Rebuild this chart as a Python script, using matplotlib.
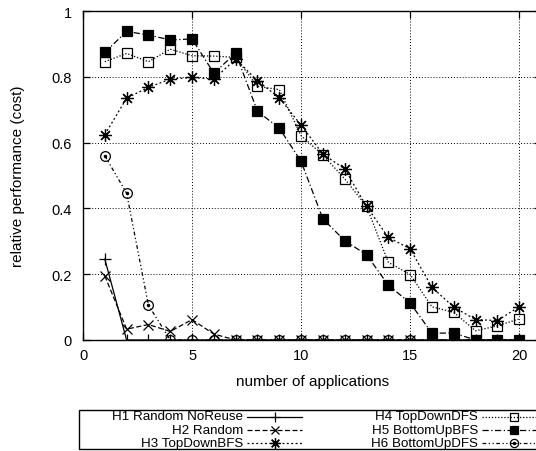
import numpy as np
import matplotlib.pyplot as plt
from matplotlib.lines import Line2D
from matplotlib.patches import Rectangle

plt.rcParams["font.family"] = ["Liberation Sans", "DejaVu Sans"]

apps = list(range(1, 21))

h1_noreuse = [0.246] + [0.0] * 19
h2_random = [0.195, 0.033, 0.047, 0.026, 0.062, 0.018] + [0.0] * 14
h3_topdown_bfs = [0.624, 0.735, 0.768, 0.793, 0.798, 0.793, 0.854, 0.788, 0.736, 0.653,
                  0.565, 0.52, 0.406, 0.312, 0.277, 0.16, 0.1, 0.062, 0.059, 0.101]
h4_topdown_dfs = [0.846, 0.871, 0.846, 0.884, 0.864, 0.863, 0.859, 0.771, 0.761, 0.621,
                  0.562, 0.49, 0.406, 0.236, 0.199, 0.101, 0.084, 0.028, 0.043, 0.064]
h5_bottomup_bfs = [0.874, 0.938, 0.927, 0.912, 0.915, 0.811, 0.872, 0.695, 0.644, 0.543,
                   0.368, 0.302, 0.259, 0.167, 0.112, 0.021, 0.021, 0.0, 0.0, 0.0]
h6_bottomup_dfs = [0.56, 0.446, 0.106] + [0.0] * 17

labels = ["H1 Random NoReuse", "H2 Random", "H3 TopDownBFS",
          "H4 TopDownDFS", "H5 BottomUpBFS", "H6 BottomUpDFS"]
series = [h1_noreuse, h2_random, h3_topdown_bfs, h4_topdown_dfs, h5_bottomup_bfs, h6_bottomup_dfs]

star = (8, 2, 0)
styles = [
    dict(linestyle="-", marker="+", ms=9, mfc="black"),
    dict(linestyle=(0, (4, 2)), marker="x", ms=7, mfc="black"),
    dict(linestyle=(0, (1.5, 2)), marker=star, ms=9, mfc="black"),
    dict(linestyle=(0, (1, 1.5)), marker="s", ms=7.5, mfc="none"),
    dict(linestyle=(0, (5, 2, 1, 2)), marker="s", ms=7, mfc="black"),
    dict(linestyle=(0, (3, 2, 1, 2, 1, 2)), marker="o", ms=7, mfc="none"),
]

fig = plt.figure(figsize=(5.36, 4.52), dpi=100)
ax = fig.add_axes([83 / 536, 111 / 452, 458 / 536, 329 / 452])

for vals, st in zip(series, styles):
    ax.plot(apps, vals, color="black", linewidth=0.9, mew=0.9, mec="black", **st)
# centre dots of the H6 circles
ax.plot(apps, h6_bottomup_dfs, linestyle="none", marker="o", ms=1.5, color="black")

ax.set_xlim(0, 21)
ax.set_ylim(0, 1)
ax.set_xticks([0, 5, 10, 15, 20])
ax.set_yticks([0, 0.2, 0.4, 0.6, 0.8, 1])
ax.set_yticklabels(["0", "0.2", "0.4", "0.6", "0.8", "1"])
ax.tick_params(direction="in", top=True, right=True, labelsize=10.5, length=5, width=0.9)
ax.tick_params(axis="y", pad=8)
ax.tick_params(axis="x", pad=6)
ax.grid(True, color="black", linestyle=(0, (1, 2)), linewidth=0.7)
for s in ax.spines.values():
    s.set_linewidth(1.0)
ax.set_xlabel("number of applications", fontsize=11)
ax.set_ylabel("relative performance (cost)", fontsize=11)
ax.xaxis.set_label_coords(230 / 458, -34 / 329)
ax.yaxis.set_label_coords(-58 / 458, 0.5)

# gnuplot-style legend box below the axes
fig.patches.append(Rectangle((79 / 536, 1 - 450 / 452), 0.9, 39 / 452,
                             transform=fig.transFigure, fill=False,
                             edgecolor="black", linewidth=1.0))
text_right = [243, 478]
sample = [(247, 302), (482, 545)]
rows = [417.5, 430.7, 443.9]
for i, (lab, st) in enumerate(zip(labels, styles)):
    col, row = divmod(i, 3)
    y = 1 - rows[row] / 452
    fig.text(text_right[col] / 536, y, lab, ha="right", va="center", fontsize=9.6)
    x0, x1 = sample[col]
    xs = [x0 / 536, x1 / 536]
    fig.add_artist(Line2D(xs, [y, y], transform=fig.transFigure, color="black",
                          linewidth=0.9, linestyle=st["linestyle"]))
    fig.add_artist(Line2D([(x0 + x1) / 2 / 536], [y], transform=fig.transFigure,
                          color="black", mec="black", mew=0.9, linestyle="none",
                          marker=st["marker"], ms=st["ms"] * 0.85, mfc=st["mfc"]))
    if i == 5:
        fig.add_artist(Line2D([(x0 + x1) / 2 / 536], [y], transform=fig.transFigure,
                              color="black", linestyle="none", marker="o", ms=1.5))

fig.savefig("out.png", dpi=100)
